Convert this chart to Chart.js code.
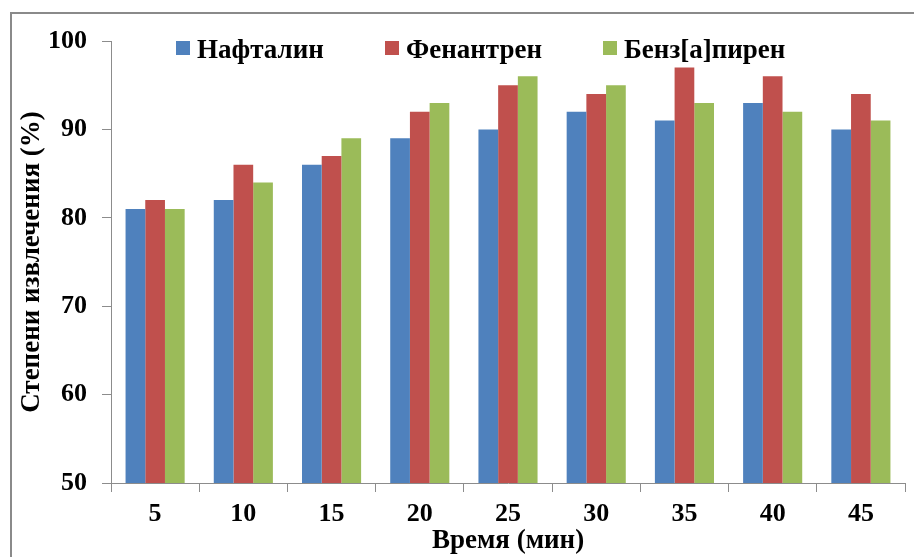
<!DOCTYPE html>
<html>
<head>
<meta charset="utf-8">
<script src="https://cdn.jsdelivr.net/npm/chart.js@4/dist/chart.umd.min.js"></script>
<style>
  html, body { margin: 0; padding: 0; background: #fff; }
  #wrap { width: 914px; height: 557px; position: relative; }
</style>
</head>
<body>
<div id="wrap"><canvas id="c" width="914" height="557"></canvas></div>
<script>
// Extraction time, minutes
const times = ['5', '10', '15', '20', '25', '30', '35', '40', '45'];

// Degree of extraction, %
const naphthalene  = [81, 82, 86, 89, 90, 92, 91, 93, 90];
const phenanthrene = [82, 86, 87, 92, 95, 94, 97, 96, 94];
const benzopyrene  = [81, 84, 89, 93, 96, 95, 93, 92, 91];

const seriesNames = ['Нафталин', 'Фенантрен', 'Бенз[а]пирен'];
const seriesColors = ['#4F81BD', '#C0504D', '#9BBB59'];

const yMin = 50, yMax = 100, yStep = 10;

const FONT = '"Liberation Serif", "Times New Roman", serif';
const AXIS_GREY = '#8c8c8c';

// Grey frame around the whole figure (its right and bottom sides run off the canvas)
const framePlugin = {
  id: 'frame',
  beforeDraw(chart) {
    const ctx = chart.ctx;
    ctx.save();
    ctx.strokeStyle = '#8a8a8a';
    ctx.lineWidth = 2;
    ctx.strokeRect(11, 13, 1200, 1200);
    ctx.restore();
  }
};

// Horizontal legend drawn across the top of the plot area
const legendPlugin = {
  id: 'inlineLegend',
  afterDraw(chart) {
    const ctx = chart.ctx;
    const boxX = [176, 385, 603];
    ctx.save();
    ctx.font = 'bold 27px ' + FONT;
    ctx.textBaseline = 'alphabetic';
    ctx.textAlign = 'left';
    chart.data.datasets.forEach((ds, i) => {
      ctx.fillStyle = ds.backgroundColor;
      ctx.fillRect(boxX[i], 41, 14, 14);
      ctx.fillStyle = '#000';
      ctx.fillText(ds.label, boxX[i] + 21, 58);
    });
    ctx.restore();
  }
};

new Chart(document.getElementById('c'), {
  type: 'bar',
  data: {
    labels: times,
    datasets: [
      { label: seriesNames[0], data: naphthalene,  backgroundColor: seriesColors[0] },
      { label: seriesNames[1], data: phenanthrene, backgroundColor: seriesColors[1] },
      { label: seriesNames[2], data: benzopyrene,  backgroundColor: seriesColors[2] }
    ]
  },
  options: {
    responsive: false,
    animation: false,
    devicePixelRatio: 1,
    categoryPercentage: 0.67,
    barPercentage: 1.0,
    layout: { padding: { left: 0, top: 41, right: 9, bottom: 0 } },
    plugins: {
      legend: { display: false },
      title: { display: false },
      tooltip: { enabled: false }
    },
    scales: {
      x: {
        grid: {
          display: true,
          drawOnChartArea: false,
          drawTicks: true,
          tickLength: 9,
          color: AXIS_GREY,
          offset: true
        },
        border: { display: true, color: AXIS_GREY, width: 1 },
        ticks: {
          color: '#000',
          padding: 7,
          maxRotation: 0,
          font: { family: FONT, size: 26, weight: 'bold', lineHeight: 1.2 }
        },
        title: {
          display: true,
          text: 'Время (мин)',
          color: '#000',
          padding: { top: 0, bottom: 0 },
          font: { family: FONT, size: 27, weight: 'bold', lineHeight: 1.2 }
        },
        afterFit(scale) { scale.height = 74; }
      },
      y: {
        min: yMin,
        max: yMax,
        grid: {
          display: true,
          drawOnChartArea: false,
          drawTicks: true,
          tickLength: 9,
          color: AXIS_GREY
        },
        border: { display: true, color: AXIS_GREY, width: 1 },
        ticks: {
          stepSize: yStep,
          color: '#000',
          padding: 15,
          font: { family: FONT, size: 26, weight: 'bold', lineHeight: 1.2 }
        },
        title: {
          display: true,
          text: 'Степени извлечения (%)',
          color: '#000',
          padding: { top: 16, bottom: 0 },
          font: { family: FONT, size: 27, weight: 'bold', lineHeight: 1.2 }
        },
        afterFit(scale) { scale.width = 111; }
      }
    }
  },
  plugins: [framePlugin, legendPlugin]
});
</script>
</body>
</html>
